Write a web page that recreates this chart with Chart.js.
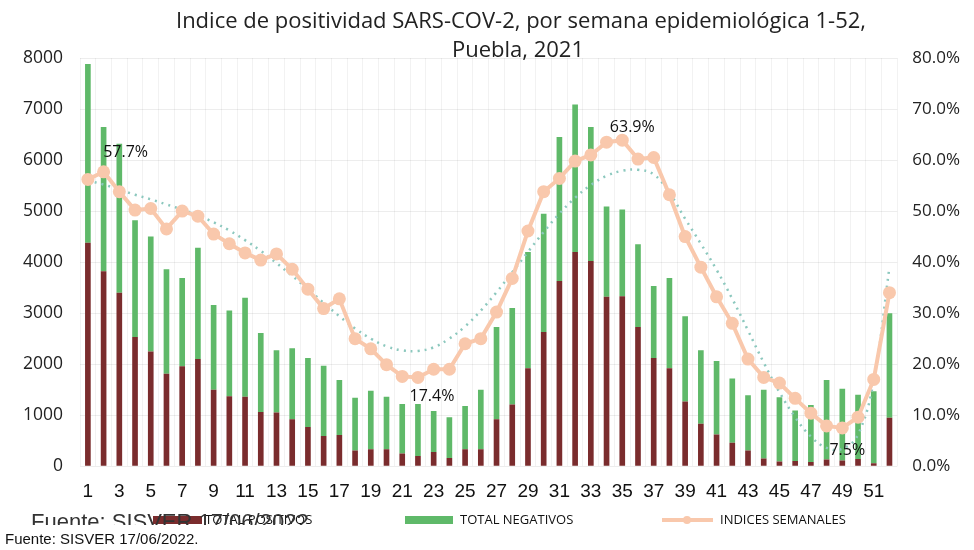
<!DOCTYPE html>
<html>
<head>
<meta charset="utf-8">
<script src="https://cdn.jsdelivr.net/npm/chart.js@4"></script>
<style>
  body { margin: 0; background: #fff; }
  #wrap { width: 974px; height: 550px; }
</style>
</head>
<body>
<div id="wrap"><canvas id="myChart"></canvas></div>
<script>
// semanas epidemiologicas 1-52
var semanas = [];
for (var s = 1; s <= 52; s++) semanas.push(String(s));

var totalPositivos = [
  4380, 3820, 3400, 2530, 2250, 1810, 1960, 2100, 1500, 1370,
  1360, 1060, 1050, 920, 770, 590, 610, 310, 330, 330,
  250, 200, 280, 160, 330, 330, 920, 1210, 1920, 2630,
  3630, 4200, 4020, 3320, 3330, 2730, 2120, 1920, 1270, 830,
  620, 460, 310, 150, 90, 100, 80, 130, 110, 140,
  60, 950
];
var totalNegativos = [
  3500, 2830, 2920, 2290, 2250, 2050, 1730, 2180, 1660, 1680,
  1940, 1550, 1220, 1390, 1350, 1380, 1080, 1030, 1150, 1030,
  970, 1020, 800, 800, 850, 1170, 1810, 1890, 2280, 2320,
  2820, 2890, 2630, 1770, 1700, 1620, 1410, 1770, 1670, 1440,
  1440, 1260, 1080, 1350, 1260, 990, 1120, 1560, 1410, 1260,
  1410, 2050
];
// indice semanal de positividad (%)
var indices = [
  56.2, 57.7, 53.8, 50.2, 50.5, 46.5, 50.0, 49.0, 45.5, 43.6,
  41.8, 40.4, 41.6, 38.6, 34.7, 30.9, 32.8, 25.0, 23.0, 19.9,
  17.6, 17.4, 19.0, 19.0, 24.0, 25.0, 30.2, 36.8, 46.1, 53.8,
  56.4, 59.8, 61.0, 63.5, 63.9, 60.2, 60.5, 53.2, 45.0, 39.0,
  33.2, 28.0, 21.0, 17.4, 16.3, 13.3, 10.4, 7.9, 7.5, 9.6,
  17.0, 34.0
];
// linea de tendencia punteada
var tendencia = [
  56.0, 55.2, 54.2, 53.2, 52.3, 51.3, 50.3, 49.2, 47.8, 46.2,
  44.3, 42.2, 39.8, 37.3, 34.7, 32.0, 29.4, 27.0, 25.0, 23.5,
  22.7, 22.6, 23.3, 25.0, 27.4, 30.5, 34.1, 38.0, 42.0, 45.9,
  49.5, 52.6, 55.1, 56.9, 57.9, 58.1, 57.2, 53.6, 48.5, 43.6,
  38.5, 32.8, 26.6, 20.3, 14.5, 9.6, 5.8, 3.6, 3.4, 6.2,
  16.8, 39.0
];
// etiquetas sobre la linea: semana, texto, desplazamiento
var etiquetas = [
  { i: 1, text: '57.7%', dx: 22, dy: -19 },
  { i: 21, text: '17.4%', dx: 14, dy: 19 },
  { i: 34, text: '63.9%', dx: 10, dy: -13 },
  { i: 48, text: '7.5%', dx: 5, dy: 23 }
];

var rojo = 'rgb(122, 44, 45)';
var verde = 'rgb(95, 185, 105)';
var durazno = 'rgb(249, 200, 172)';

var extrasPlugin = {
  id: 'extras',
  afterDraw: function(chart) {
    var ctx = chart.ctx;
    var ds = chart.data.datasets;
    ctx.save();
    // titulo
    ctx.fillStyle = '#222';
    ctx.font = '22px "Open Sans"';
    ctx.textAlign = 'center';
    ctx.textBaseline = 'middle';
    ctx.fillText('Indice de positividad SARS-COV-2, por semana epidemiológica 1-52,', 521, 22);
    ctx.fillText('Puebla, 2021', 518, 51);

    // leyenda
    var ly = 520;
    ctx.textAlign = 'left';
    ctx.font = '13px "Open Sans"';
    ctx.fillStyle = ds[0].backgroundColor;
    ctx.fillRect(153, ly - 4, 49, 8);
    ctx.fillStyle = ds[1].backgroundColor;
    ctx.fillRect(405, ly - 4, 48, 8);
    ctx.strokeStyle = ds[2].borderColor;
    ctx.lineWidth = 4;
    ctx.beginPath();
    ctx.moveTo(662, ly);
    ctx.lineTo(713, ly);
    ctx.stroke();
    ctx.fillStyle = ds[2].borderColor;
    ctx.beginPath();
    ctx.arc(687, ly, 4, 0, Math.PI * 2);
    ctx.fill();
    ctx.fillStyle = '#111';
    ctx.fillText(ds[0].label, 205, ly);
    ctx.fillText(ds[1].label, 460, ly);
    ctx.fillText(ds[2].label, 720, ly);

    // fuente
    ctx.font = '15px "Liberation Sans Narrow", "Liberation Sans"';
    ctx.fillText('Fuente: SISVER 17/06/2022.', 5, 540);

    // texto fantasma del escaneo, recortado
    ctx.beginPath();
    ctx.rect(0, 505, 330, 20);
    ctx.clip();
    ctx.fillStyle = '#333';
    ctx.font = '22px "Liberation Sans Narrow", "Liberation Sans"';
    ctx.textBaseline = 'alphabetic';
    ctx.fillText('Fuente: SISVER 17/06/2022', 31, 529);
    ctx.restore();
  }
};

var labelPlugin = {
  id: 'etiquetas',
  afterDatasetsDraw: function(chart) {
    var meta = chart.getDatasetMeta(2);
    var ctx = chart.ctx;
    ctx.save();
    ctx.fillStyle = '#111';
    ctx.font = '16px "Open Sans"';
    ctx.textAlign = 'center';
    ctx.textBaseline = 'middle';
    etiquetas.forEach(function(e) {
      var p = meta.data[e.i];
      ctx.fillText(e.text, p.x + e.dx, p.y + e.dy);
    });
    ctx.restore();
  }
};

var data = {
  labels: semanas,
  datasets: [{
    type: 'bar',
    label: 'TOTAL POSITIVOS',
    data: totalPositivos,
    backgroundColor: rojo,
    yAxisID: 'y',
    stack: 'a',
    order: 3,
    barPercentage: 1,
    categoryPercentage: 0.36
  }, {
    type: 'bar',
    label: 'TOTAL NEGATIVOS',
    data: totalNegativos,
    backgroundColor: verde,
    yAxisID: 'y',
    stack: 'a',
    order: 3,
    barPercentage: 1,
    categoryPercentage: 0.36
  }, {
    type: 'line',
    label: 'INDICES SEMANALES',
    data: indices,
    borderColor: durazno,
    backgroundColor: durazno,
    borderWidth: 4,
    pointRadius: 6.5,
    pointBorderWidth: 0,
    pointBackgroundColor: durazno,
    tension: 0,
    yAxisID: 'y1',
    order: 0
  }, {
    type: 'line',
    label: 'tendencia',
    data: tendencia,
    borderColor: 'rgb(140, 200, 190)',
    borderWidth: 2.5,
    borderDash: [2, 5],
    pointRadius: 0,
    tension: 0.4,
    yAxisID: 'y1',
    order: 1
  }]
};

var config = {
  data: data,
  plugins: [extrasPlugin, labelPlugin],
  options: {
    responsive: true,
    maintainAspectRatio: false,
    animation: false,
    layout: { padding: { top: 58, left: 6, right: 7, bottom: 33 } },
    plugins: {
      title: { display: false },
      legend: { display: false },
      tooltip: { enabled: false }
    },
    scales: {
      x: {
        stacked: true,
        grid: { color: 'rgba(0,0,0,0.05)', drawTicks: false },
        border: { display: false },
        ticks: {
          color: '#111',
          autoSkip: false,
          maxRotation: 0,
          padding: 14,
          font: { family: '"Liberation Sans Narrow", "Liberation Sans"', size: 19 },
          callback: function(v, i) { return i % 2 === 0 ? semanas[i] : ''; }
        }
      },
      y: {
        stacked: true,
        position: 'left',
        min: 0,
        max: 8000,
        grid: { color: 'rgba(0,0,0,0.07)', drawTicks: false },
        border: { display: false },
        ticks: {
          stepSize: 1000,
          color: '#222',
          padding: 17,
          font: { family: '"Open Sans"', size: 17.5 },
          callback: function(v) { return String(v); }
        }
      },
      y1: {
        position: 'right',
        min: 0,
        max: 80,
        grid: { display: false },
        border: { display: false },
        ticks: {
          stepSize: 10,
          color: '#222',
          padding: 7,
          font: { family: '"Open Sans"', size: 17 },
          callback: function(v) { return v.toFixed(1) + '%'; }
        }
      }
    }
  }
};

var myChart = new Chart(document.getElementById('myChart'), config);
</script>
</body>
</html>
